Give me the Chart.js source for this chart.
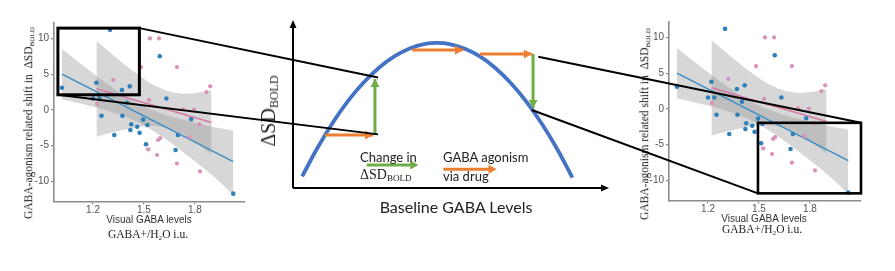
<!DOCTYPE html>
<html><head><meta charset="utf-8">
<script src="https://cdn.jsdelivr.net/npm/chart.js@4/dist/chart.umd.min.js"></script>
<style>
html,body{margin:0;padding:0;background:#fff;}
#wrap{position:relative;width:895px;height:271px;overflow:hidden;background:#fff;}
.abs{position:absolute;}
#leftBox{left:0;top:0;width:245px;height:271px;overflow:hidden;}
#rightBox{left:615px;top:-1px;width:280px;height:271px;overflow:hidden;}
#midBox{left:250px;top:0;width:370px;height:271px;}
#overlay{left:0;top:0;pointer-events:none;}
.t{position:absolute;white-space:nowrap;transform:translate(-50%,-50%);line-height:1;}
.rot{transform:translate(-50%,-50%) rotate(-90deg);}
.serif{font-family:"Liberation Serif","DejaVu Serif",serif;color:#222;}
.sans{font-family:"Liberation Sans",Arial,sans-serif;color:#333;}
.lato{font-family:Lato,"Open Sans",sans-serif;color:#222;}
.sub{font-size:0.62em;position:relative;top:0.22em;}
.lt{position:absolute;white-space:nowrap;line-height:1;transform:translateY(-50%);}
</style></head><body>
<div id="wrap">
  <div id="leftBox" class="abs"><canvas id="left" width="250" height="271"></canvas></div>
  <div id="midBox" class="abs"><canvas id="mid" width="370" height="271"></canvas></div>
  <div id="rightBox" class="abs"><canvas id="right" width="250" height="271"></canvas></div>

  <div class="t rot serif" style="left:29px;top:123px;font-size:11.5px;">GABA-agonism related shift in&nbsp; ΔSD<span class="sub">BOLD</span></div>
  <div class="t sans" style="left:149px;top:220px;font-size:10px;">Visual GABA levels</div>
  <div class="t serif" style="left:148px;top:235px;font-size:11.5px;">GABA+/H<span class="sub">2</span>O i.u.</div>

  <div class="t rot serif" style="left:645px;top:124px;font-size:11.5px;">GABA-agonism related shift in&nbsp; ΔSD<span class="sub">BOLD</span></div>
  <div class="t sans" style="left:764px;top:219px;font-size:10px;">Visual GABA levels</div>
  <div class="t serif" style="left:762px;top:230px;font-size:11.5px;">GABA+/H<span class="sub">2</span>O i.u.</div>

  <div class="t rot serif" style="left:268px;top:111px;font-size:20px;">ΔSD<span class="sub" style="font-size:0.6em">BOLD</span></div>
  <div class="t lato" style="left:456px;top:207px;font-size:16px;">Baseline GABA Levels</div>
  <div class="lt lato" style="left:360px;top:157px;font-size:13px;">Change in</div>
  <div class="lt serif" style="left:360px;top:175px;font-size:14px;">ΔSD<span class="sub" style="font-size:0.65em">BOLD</span></div>
  <div class="lt lato" style="left:443px;top:157px;font-size:13px;">GABA agonism</div>
  <div class="lt lato" style="left:443px;top:176px;font-size:13px;">via drug</div>

  <canvas id="overlay" class="abs" width="895" height="271"></canvas>
</div>
<script>
// ---------- scatter data (visual GABA vs GABA-agonism shift) ----------
const xTicks = [1.2, 1.5, 1.8];
const yTicks = [-10, -5, 0, 5, 10];

const blueX = [1.30, 1.017, 1.22, 1.20, 1.237, 1.25, 1.37, 1.416, 1.40, 1.373, 1.325, 1.425, 1.46, 1.42, 1.474, 1.495, 1.52, 1.512, 1.593, 1.632, 1.70, 1.686, 1.778, 2.026];
const blueY = [11.2, 3.1, 3.8, 1.6, 1.6, -0.8, 2.8, 3.3, 1.0, -0.8, -3.5, -2.0, -2.35, -2.8, -3.2, -1.35, -2.1, -4.8, 7.5, 1.6, -3.5, -5.6, -1.3, -11.7];

const pinkX = [1.535, 1.589, 1.483, 1.694, 1.319, 1.223, 1.53, 1.73, 1.795, 1.89, 1.868, 1.583, 1.595, 1.525, 1.577, 1.694, 1.83, 1.766, 1.827];
const pinkY = [10.0, 10.0, 6.0, 6.0, 4.2, 0.85, 1.4, 0.1, 0.05, 3.3, 2.5, -4.2, -3.95, -5.5, -6.3, -7.5, -8.6, -3.8, -2.0];

const blueFitX = [1.017, 2.026];
const blueFitY = [5.0, -7.21];
const blueBandX = [1.017, 1.15, 1.3, 1.45, 1.6, 1.75, 1.9, 2.026];
const blueBandUpper = [8.51, 6.03, 3.37, 1.07, -0.45, -1.47, -2.32, -2.9];
const blueBandLower = [1.49, 0.75, -0.21, -1.55, -3.65, -6.27, -9.1, -11.9];

const pinkFitX = [1.22, 1.898];
const pinkFitY = [2.96, -1.75];
const pinkBandX = [1.22, 1.33, 1.45, 1.57, 1.69, 1.8, 1.898];
const pinkBandUpper = [9.65, 7.45, 5.20, 3.35, 2.37, 2.37, 2.74];
const pinkBandLower = [-3.73, -3.05, -2.48, -2.29, -2.99, -4.51, -6.24];

// ---------- schematic data (inverted-U) ----------
const curveX = [0.3, 0.8, 1.3, 1.8, 2.3, 2.8, 3.3, 3.8, 4.3, 4.7, 5.1, 5.6, 6.1, 6.6, 7.1, 7.6, 8.1, 8.6, 9.1];
const curveY = [0.71, 2.44, 3.97, 5.29, 6.39, 7.29, 7.98, 8.46, 8.73, 8.79, 8.72, 8.44, 7.96, 7.26, 6.35, 5.24, 3.91, 2.38, 0.63];
const drugStartX = [1.04, 3.88, 6.09];
const drugEndX = [2.61, 5.54, 7.78];
const drugLevel = [3.21, 8.36, 8.12];
const boldX = [2.67, 7.82];
const boldFrom = [3.21, 8.12];
const boldTo = [6.6, 4.85];

const BLUE_PT = '#2f80b9', PINK_PT = '#d892b8', BLUE_LN = '#3b8dc6', PINK_LN = '#d57aa6';
const BAND = 'rgba(150,150,150,0.38)';
const ORANGE = '#ed7d31', GREEN = '#70ad47', CURVE = '#4472c4';
const AXIS = '#8c8c8c';

Chart.defaults.font.family = '"Liberation Sans", Arial, sans-serif';

const pts = (xs, ys) => xs.map((x, i) => ({x, y: ys[i]}));

function makeScatter(id) {
  return new Chart(document.getElementById(id), {
    type: 'scatter',
    data: { datasets: [
      {type:'line', data: pts(blueBandX, blueBandUpper), borderWidth:0, pointRadius:0, fill:false, tension:0.4, order:3},
      {type:'line', data: pts(blueBandX, blueBandLower), borderWidth:0, pointRadius:0, fill:'-1', backgroundColor:BAND, tension:0.4, order:3},
      {type:'line', data: pts(pinkBandX, pinkBandUpper), borderWidth:0, pointRadius:0, fill:false, tension:0.4, order:4},
      {type:'line', data: pts(pinkBandX, pinkBandLower), borderWidth:0, pointRadius:0, fill:'-1', backgroundColor:BAND, tension:0.4, order:4},
      {type:'line', data: pts(pinkFitX, pinkFitY), borderColor:PINK_LN, borderWidth:1.4, pointRadius:0, fill:false, order:2},
      {type:'line', data: pts(blueFitX, blueFitY), borderColor:BLUE_LN, borderWidth:1.4, pointRadius:0, fill:false, order:2},
      {data: pts(pinkX, pinkY), backgroundColor:PINK_PT, borderWidth:0, pointRadius:2.1, order:1},
      {data: pts(blueX, blueY), backgroundColor:BLUE_PT, borderWidth:0, pointRadius:2.3, order:0}
    ]},
    options: {
      responsive:false, animation:false, events:[],
      plugins:{legend:{display:false}, tooltip:{enabled:false}},
      layout:{padding:{left:0, right:0, top:22.7, bottom:0}},
      scales:{
        x:{type:'linear', min:0.97, max:2.101,
           afterBuildTicks: s => { s.ticks = xTicks.map(v => ({value:v})); },
           afterFit: s => { s.height = 69.5; },
           ticks:{color:'#555', font:{size:10}, padding:0, callback: v => v.toFixed(1)},
           grid:{drawOnChartArea:false, drawTicks:true, tickLength:3, color:AXIS, lineWidth:1.2},
           border:{display:true, color:AXIS, width:1.6}},
        y:{type:'linear', min:-12.8, max:12.2,
           afterBuildTicks: s => { s.ticks = yTicks.map(v => ({value:v})); },
           afterFit: s => { s.width = 54; },
           ticks:{color:'#555', font:{size:10}, padding:2},
           grid:{drawOnChartArea:false, drawTicks:true, tickLength:3, color:AXIS, lineWidth:1.2},
           border:{display:true, color:AXIS, width:1.6}}
      }
    }
  });
}

function arrowHead(ctx, x0, y0, x1, y1, color, len, half) {
  const a = Math.atan2(y1 - y0, x1 - x0);
  ctx.save();
  ctx.fillStyle = color;
  ctx.beginPath();
  ctx.moveTo(x1, y1);
  ctx.lineTo(x1 - len*Math.cos(a) + half*Math.sin(a), y1 - len*Math.sin(a) - half*Math.cos(a));
  ctx.lineTo(x1 - len*Math.cos(a) - half*Math.sin(a), y1 - len*Math.sin(a) + half*Math.cos(a));
  ctx.closePath();
  ctx.fill();
  ctx.restore();
}

const schematicPlugin = {
  id: 'schematic',
  beforeDatasetsDraw(chart) {
    const {ctx, chartArea: a} = chart;
    ctx.save();
    ctx.strokeStyle = '#000'; ctx.lineWidth = 2;
    ctx.beginPath();
    ctx.moveTo(a.left, a.bottom); ctx.lineTo(a.left, a.top + 4);
    ctx.moveTo(a.left, a.bottom); ctx.lineTo(a.right + 3, a.bottom);
    ctx.stroke();
    ctx.restore();
    arrowHead(ctx, a.left, a.bottom, a.left, a.top - 3, '#000', 8, 3.5);
    arrowHead(ctx, a.left, a.bottom, a.right + 9, a.bottom, '#000', 8, 3.5);
  },
  afterDatasetsDraw(chart) {
    const {ctx} = chart;
    chart.data.datasets.forEach((ds, i) => {
      if (!ds.arrow) return;
      const el = chart.getDatasetMeta(i).data;
      const p0 = el[el.length - 2], p1 = el[el.length - 1];
      arrowHead(ctx, p0.x, p0.y, p1.x, p1.y, ds.borderColor, 8, 4.5);
    });
    const sx = chart.scales.x, sy = chart.scales.y;
    const leg = [[2.40, 4.08, 1.39, GREEN], [4.90, 6.63, 1.13, ORANGE]];
    leg.forEach(([a, b, y, c]) => {
      const x0 = sx.getPixelForValue(a), x1 = sx.getPixelForValue(b), yy = sy.getPixelForValue(y);
      ctx.save(); ctx.strokeStyle = c; ctx.lineWidth = 3;
      ctx.beginPath(); ctx.moveTo(x0, yy); ctx.lineTo(x1 - 6, yy); ctx.stroke(); ctx.restore();
      arrowHead(ctx, x0, yy, x1, yy, c, 8, 4.5);
    });
  }
};

const midSets = [{data: pts(curveX, curveY), borderColor:CURVE, borderWidth:3.8, pointRadius:0, tension:0.4, fill:false, order:5}];
drugStartX.forEach((x, i) => midSets.push({data: pts([x, drugEndX[i] - 0.15], [drugLevel[i], drugLevel[i]]).concat([{x: drugEndX[i], y: drugLevel[i]}]), borderColor:ORANGE, borderWidth:3, pointRadius:0, fill:false, arrow:true, order:1}));
boldX.forEach((x, i) => midSets.push({data: [{x, y: boldFrom[i]}, {x, y: boldTo[i] - Math.sign(boldTo[i]-boldFrom[i])*0.35}, {x, y: boldTo[i]}], borderColor:GREEN, borderWidth:3, pointRadius:0, fill:false, arrow:true, order:1}));

const left = makeScatter('left');
const right = makeScatter('right');
const mid = new Chart(document.getElementById('mid'), {
  type: 'line',
  data: {datasets: midSets},
  options: {
    responsive:false, animation:false, events:[],
    plugins:{legend:{display:false}, tooltip:{enabled:false}},
    layout:{padding:{left:43, right:20, top:23, bottom:83}},
    scales:{x:{type:'linear', min:0, max:10, display:false}, y:{type:'linear', min:0, max:10, display:false}}
  },
  plugins:[schematicPlugin]
});

// ---------- zoom boxes and connector lines ----------
const offs = {left:[0,0], mid:[250,0], right:[615,-1]};
const charts = {left, mid, right};
function P(name, x, y) {
  const c = charts[name], o = offs[name];
  return [o[0] + c.scales.x.getPixelForValue(x), o[1] + c.scales.y.getPixelForValue(y)];
}
const oc = document.getElementById('overlay').getContext('2d');
oc.strokeStyle = '#000';
function rect(name, x0, x1, y0, y1, w) {
  const a = P(name, x0, y1), b = P(name, x1, y0);
  oc.lineWidth = w;
  oc.strokeRect(a[0], a[1], b[0] - a[0], b[1] - a[1]);
}
function seg(p, q, w) {
  oc.lineWidth = w; oc.beginPath(); oc.moveTo(p[0], p[1]); oc.lineTo(q[0], q[1]); oc.stroke();
}
rect('left', 0.993, 1.473, 2.12, 11.44, 3);
rect('right', 1.494, 2.101, -11.8, -1.94, 2.6);
seg(P('left', 1.473, 11.44), P('mid', 2.77, 6.70), 2);
seg(P('left', 0.993, 2.12), P('mid', 2.77, 3.25), 2);
seg(P('mid', 7.99, 7.96), P('right', 2.101, -1.94), 2);
seg(P('mid', 7.78, 4.73), P('right', 1.494, -11.8), 2);
</script>
</body></html>
